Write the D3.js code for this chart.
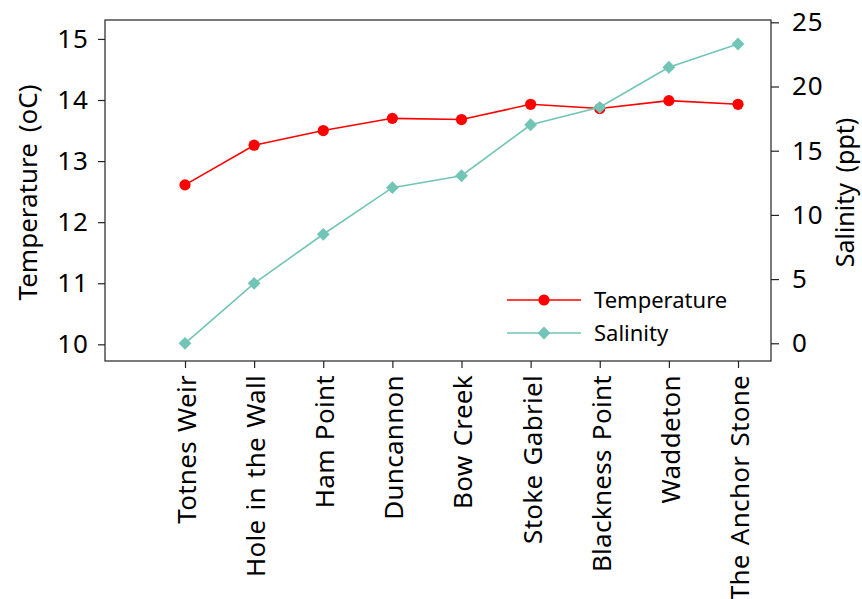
<!DOCTYPE html>
<html lang="en">
<head>
    <meta charset="UTF-8">
    <title>Temperature and Salinity</title>
    <script src="https://cdn.jsdelivr.net/npm/d3@7"></script>
    <style type="text/css">
        body { margin: 0; background: #fff; }
        text { font-family: "Noto Sans", "Open Sans", sans-serif; fill: #000; }
        .spine { fill: none; stroke: #222; stroke-width: 1.2; }
        .tick line { stroke: #222; stroke-width: 1.2; }
    </style>
</head>
<body>
    <svg id="chart"></svg>
    <script>
        // Sizes of the SVG
        var width = 862;
        var height = 599;

        // Plot area (plotTop, not "top": window.top is read-only)
        var plotLeft = 105, plotRight = 771, plotTop = 20, plotBottom = 361;

        // Data
        var sites = ["Totnes Weir", "Hole in the Wall", "Ham Point", "Duncannon", "Bow Creek",
                     "Stoke Gabriel", "Blackness Point", "Waddeton", "The Anchor Stone"];
        var temperature = [12.61, 13.26, 13.50, 13.70, 13.68, 13.93, 13.86, 13.99, 13.93];
        var salinity = [0, 4.67, 8.49, 12.12, 13.05, 17.02, 18.38, 21.50, 23.31];
        var tempTicks = [10, 11, 12, 13, 14, 15];
        var salTicks = [0, 5, 10, 15, 20, 25];

        var tempColor = "#ff0000";
        var salColor = "#72c5b6";

        var svg = d3.select("#chart")
            .attr("width", width)
            .attr("height", height);

        var x = d3.scalePoint()
            .domain(sites)
            .range([plotLeft + 80, plotRight - 33]);

        var yTemp = d3.scaleLinear()
            .domain([9.727, 15.31])
            .range([plotBottom, plotTop]);

        var ySal = d3.scaleLinear()
            .domain([-1.38, 25.18])
            .range([plotBottom, plotTop]);

        // Axes
        var xAxis = svg.append("g")
            .attr("transform", "translate(0," + plotBottom + ")")
            .call(d3.axisBottom(x).tickSize(7).tickPadding(0));
        xAxis.select(".domain").remove();
        xAxis.selectAll("text")
            .attr("transform", "translate(1,14) rotate(-90)")
            .attr("x", 0)
            .attr("y", 0)
            .attr("dy", "0.36em")
            .attr("text-anchor", "end")
            .style("font-size", "26px")
            .style("letter-spacing", "0.3px")
            .style("word-spacing", "2px");

        var yAxisL = svg.append("g")
            .attr("transform", "translate(" + plotLeft + ",0)")
            .call(d3.axisLeft(yTemp).tickValues(tempTicks).tickFormat(d3.format("d"))
                .tickSize(7).tickPadding(9));
        yAxisL.select(".domain").remove();
        yAxisL.selectAll("text").style("font-size", "26px").style("letter-spacing", "1px");

        var yAxisR = svg.append("g")
            .attr("transform", "translate(" + plotRight + ",0)")
            .call(d3.axisRight(ySal).tickValues(salTicks).tickFormat(d3.format("d"))
                .tickSize(8).tickPadding(13));
        yAxisR.select(".domain").remove();
        yAxisR.selectAll("text").style("font-size", "26px").style("letter-spacing", "1px");

        svg.append("rect")
            .attr("class", "spine")
            .attr("x", plotLeft)
            .attr("y", plotTop)
            .attr("width", plotRight - plotLeft)
            .attr("height", plotBottom - plotTop);

        // Axis labels
        svg.append("text")
            .attr("transform", "translate(28," + ((plotTop + plotBottom) / 2 + 2) + ") rotate(-90)")
            .attr("text-anchor", "middle")
            .attr("dy", "0.36em")
            .style("font-size", "26px")
            .style("word-spacing", "4px")
            .text("Temperature (oC)");

        svg.append("text")
            .attr("transform", "translate(845," + ((plotTop + plotBottom) / 2 + 2) + ") rotate(-90)")
            .attr("text-anchor", "middle")
            .attr("dy", "0.36em")
            .style("font-size", "25px")
            .style("word-spacing", "4px")
            .text("Salinity (ppt)");

        // Lines
        var tempLine = d3.line()
            .x(function (d, i) { return x(sites[i]); })
            .y(function (d) { return yTemp(d); });

        var salLine = d3.line()
            .x(function (d, i) { return x(sites[i]); })
            .y(function (d) { return ySal(d); });

        svg.append("path")
            .datum(temperature)
            .attr("d", tempLine)
            .attr("fill", "none")
            .attr("stroke", tempColor)
            .attr("stroke-width", 1.6);

        svg.selectAll("circle.temp")
            .data(temperature)
            .enter()
            .append("circle")
            .attr("class", "temp")
            .attr("cx", function (d, i) { return x(sites[i]); })
            .attr("cy", function (d) { return yTemp(d); })
            .attr("r", 5.6)
            .attr("fill", tempColor);

        svg.append("path")
            .datum(salinity)
            .attr("d", salLine)
            .attr("fill", "none")
            .attr("stroke", salColor)
            .attr("stroke-width", 1.6);

        var diamond = d3.symbol().type(d3.symbolSquare).size(82);

        svg.selectAll("path.sal")
            .data(salinity)
            .enter()
            .append("path")
            .attr("class", "sal")
            .attr("d", diamond)
            .attr("transform", function (d, i) {
                return "translate(" + x(sites[i]) + "," + ySal(d) + ") rotate(45)";
            })
            .attr("fill", salColor);

        // Legend
        var legendItems = [
            {name: "Temperature", color: tempColor, kind: "circle"},
            {name: "Salinity", color: salColor, kind: "diamond"}
        ];

        var legend = svg.selectAll("g.legend")
            .data(legendItems)
            .enter()
            .append("g")
            .attr("class", "legend")
            .attr("transform", function (d, i) {
                return "translate(507," + (300 + i * 33) + ")";
            });

        legend.append("line")
            .attr("x1", 0)
            .attr("x2", 74)
            .attr("stroke", function (d) { return d.color; })
            .attr("stroke-width", 1.6);

        legend.each(function (d) {
            var g = d3.select(this);
            if (d.kind === "circle") {
                g.append("circle").attr("cx", 37).attr("r", 5.6).attr("fill", d.color);
            } else {
                g.append("path").attr("d", diamond)
                    .attr("transform", "translate(37,0) rotate(45)")
                    .attr("fill", d.color);
            }
        });

        legend.append("text")
            .attr("x", 87)
            .attr("dy", "0.36em")
            .style("font-size", "22px")
            .text(function (d) { return d.name; });
    </script>
</body>
</html>
